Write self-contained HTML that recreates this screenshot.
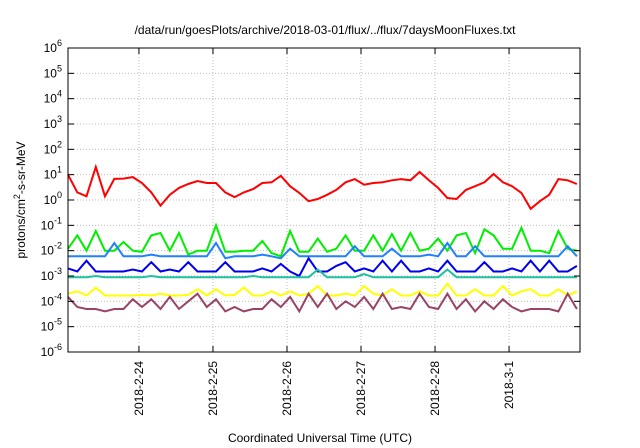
<!DOCTYPE html>
<html><head><meta charset="utf-8"><style>
html,body{margin:0;padding:0;background:#fff;}
svg{display:block;font-family:"Liberation Sans",sans-serif;}
</style></head><body>
<svg id="chart" width="640" height="448" viewBox="0 0 640 448">
<rect x="0" y="0" width="640" height="448" fill="#fff"/>
<g id="grid"></g>
<g id="series"></g>
<rect x="68" y="48" width="512" height="304" fill="none" stroke="#000" stroke-width="1"/>
<g id="axes"></g>
<text x="325" y="34" font-size="12" text-anchor="middle" fill="#000">/data/run/goesPlots/archive/2018-03-01/flux/../flux/7daysMoonFluxes.txt</text>
<text transform="translate(25,200) rotate(-90)" font-size="12" text-anchor="middle" fill="#000">protons/cm<tspan dy="-5" font-size="9">2</tspan><tspan dy="5">-s-sr-MeV</tspan></text>
<text x="320" y="442" font-size="12" text-anchor="middle" fill="#000">Coordinated Universal Time (UTC)</text>
</svg>
<script>
const hours = [0,3,6,9,12,15,18,21,24,27,30,33,36,39,42,45,48,51,54,57,60,63,66,69,72,75,78,81,84,87,90,93,96,99,102,105,108,111,114,117,120,123,126,129,132,135,138,141,144,147,150,153,156,159,162,165];
const dayLabels = ["2018-2-24","2018-2-25","2018-2-26","2018-2-27","2018-2-28","2018-3-1"];
const dayHours = [23,47,71,95,119,143];
const yTickExps = [-6,-5,-4,-3,-2,-1,0,1,2,3,4,5,6];
const redVals = [10,2,1.4,20,1.4,6.8,7,8,4.7,2,0.6,1.6,3,4.3,5.6,4.7,4.7,2,1.3,2,2.7,4.7,5,9,3.5,1.9,0.9,1.1,1.6,2.5,5,6.7,4,4.7,5,6,6.7,6,12.7,6,3,1.2,1.1,2.5,3.5,5,10.6,5,3.5,1.9,0.45,0.9,1.6,6.7,6,4.3];
const greenVals = [0.012,0.04,0.01,0.06,0.01,0.01,0.022,0.01,0.009,0.04,0.05,0.01,0.05,0.007,0.01,0.01,0.1,0.009,0.009,0.01,0.01,0.024,0.008,0.006,0.06,0.009,0.009,0.03,0.009,0.012,0.04,0.01,0.01,0.04,0.01,0.045,0.01,0.05,0.01,0.012,0.03,0.01,0.04,0.05,0.008,0.07,0.04,0.012,0.012,0.08,0.01,0.01,0.008,0.06,0.012,0.01];
const skyVals = [0.006,0.006,0.006,0.006,0.006,0.02,0.006,0.006,0.006,0.007,0.006,0.006,0.006,0.006,0.006,0.006,0.02,0.005,0.006,0.006,0.006,0.007,0.006,0.005,0.012,0.006,0.006,0.006,0.006,0.006,0.006,0.015,0.006,0.006,0.006,0.012,0.006,0.006,0.006,0.007,0.006,0.02,0.006,0.006,0.015,0.006,0.006,0.006,0.006,0.006,0.006,0.006,0.006,0.006,0.015,0.006];
const blueVals = [0.002,0.0015,0.004,0.0015,0.0015,0.0015,0.0015,0.0018,0.0015,0.0035,0.0015,0.0018,0.0015,0.0035,0.0015,0.0015,0.0015,0.0035,0.0015,0.0015,0.0015,0.002,0.0015,0.003,0.0015,0.001,0.005,0.0015,0.0015,0.0025,0.0035,0.0015,0.002,0.0015,0.004,0.0015,0.004,0.0015,0.0015,0.002,0.0015,0.004,0.0015,0.0015,0.0015,0.0035,0.0015,0.0015,0.002,0.0015,0.004,0.0015,0.004,0.0015,0.0015,0.0025];
const tealVals = [0.0009,0.0009,0.0009,0.001,0.0009,0.0009,0.0009,0.0009,0.0009,0.001,0.0009,0.0009,0.0009,0.0009,0.0009,0.0009,0.0009,0.0009,0.0009,0.0009,0.001,0.0009,0.0009,0.0009,0.0009,0.0009,0.0009,0.0018,0.0009,0.0009,0.0009,0.0009,0.0012,0.0009,0.0009,0.0009,0.0009,0.0009,0.0009,0.0009,0.0009,0.0018,0.0009,0.0009,0.0009,0.0009,0.0009,0.0009,0.0009,0.0009,0.0009,0.0009,0.0009,0.0009,0.0009,0.0009];
const yellowVals = [0.0002,0.00025,0.00017,0.00035,0.00017,0.00017,0.00017,0.00017,0.00018,0.00017,0.0002,0.00017,0.00017,0.00018,0.0003,0.00017,0.0003,0.00017,0.00018,0.00035,0.00017,0.00017,0.00025,0.00017,0.00025,0.00017,0.0002,0.0004,0.00017,0.00017,0.0002,0.00017,0.0004,0.0002,0.00017,0.0003,0.00017,0.00017,0.00025,0.00017,0.00017,0.0005,0.00017,0.00017,0.0003,0.00017,0.00017,0.0004,0.00017,0.00025,0.0003,0.00017,0.00017,0.0003,0.00017,0.00025];
const purpleVals = [0.00015,0.00006,0.00005,0.00005,0.00004,0.00005,0.00005,0.00012,0.00006,0.00012,0.00005,0.00015,0.00005,0.0001,0.0002,0.00006,0.00012,0.00004,0.00006,0.00004,0.00005,0.00005,0.00012,0.00006,0.00015,0.00004,0.0002,0.00006,0.0002,0.00005,0.0001,0.00006,0.00015,0.00005,0.0002,0.00005,0.00006,0.00005,0.0002,0.00006,0.00005,0.0002,0.00005,0.00012,0.00004,0.0001,0.00005,0.00012,0.00006,0.00004,0.00005,0.00005,0.00005,0.00004,0.0002,0.00005];

const NS = "http://www.w3.org/2000/svg";
const X0 = 68, X1 = 580, Y0 = 48, Y1 = 352, HMAX = 166, EMIN = -6, EMAX = 6;
function xScale(h){ return X0 + (h / HMAX) * (X1 - X0); }
function yScale(v){ const e = Math.log10(v); return Y1 - (e - EMIN) / (EMAX - EMIN) * (Y1 - Y0); }
function mk(tag, attrs, parent){ const el = document.createElementNS(NS, tag); for (const k in attrs) el.setAttribute(k, attrs[k]); parent.appendChild(el); return el; }

const grid = document.getElementById('grid');
const axes = document.getElementById('axes');
yTickExps.forEach(e => {
  const y = yScale(Math.pow(10, e));
  if (e > EMIN && e < EMAX) {
    const g = mk('line', {x1:X0, x2:X1, y1:y, y2:y, stroke:'#bbb', 'stroke-width':1, 'stroke-dasharray':'1,2'}, grid);
    
    
  }
  const t1 = mk('line', {x1:X0, x2:X0+6, y1:y, y2:y, stroke:'#000'}, axes);
  
  
  const t2 = mk('line', {x1:X1-6, x2:X1, y1:y, y2:y, stroke:'#000'}, axes);
  
  
  const lab = mk('text', {x:X0-6, y:y+4, 'font-size':12, 'text-anchor':'end', fill:'#000'}, axes);
  
  
  lab.appendChild(document.createTextNode('10'));
  const sup = mk('tspan', {dy:-6, 'font-size':9}, lab);
  sup.textContent = String(e);
});
dayHours.forEach((h, i) => {
  const x = xScale(h);
  const g = mk('line', {x1:x, x2:x, y1:Y0, y2:Y1, stroke:'#bbb', 'stroke-width':1, 'stroke-dasharray':'1,2'}, grid);
  
  
  const t1 = mk('line', {x1:x, x2:x, y1:Y1-6, y2:Y1, stroke:'#000'}, axes);
  
  
  const t2 = mk('line', {x1:x, x2:x, y1:Y0, y2:Y0+6, stroke:'#000'}, axes);
  
  
  const lab = mk('text', {transform:'translate(' + (x+4) + ',361) rotate(-90)', 'font-size':12, 'text-anchor':'end', fill:'#000'}, axes);
  
  
  lab.textContent = dayLabels[i];
});

const seriesG = document.getElementById('series');
function drawSeries(vals, color, name){
  const pts = vals.map((v, i) => xScale(hours[i]).toFixed(1) + ',' + yScale(v).toFixed(1)).join(' ');
  const pl = mk('polyline', {points:pts, fill:'none', stroke:color, 'stroke-width':2, 'stroke-linejoin':'miter'}, seriesG);
  
  
}
drawSeries(redVals, '#ff0000', 'series-red');
drawSeries(greenVals, '#00ee00', 'series-green');
drawSeries(skyVals, '#2080ff', 'series-lightblue');
drawSeries(blueVals, '#0000ee', 'series-blue');
drawSeries(tealVals, '#20c0a0', 'series-teal');
drawSeries(yellowVals, '#ffff00', 'series-yellow');
drawSeries(purpleVals, '#994466', 'series-purple');
</script>
</body></html>
